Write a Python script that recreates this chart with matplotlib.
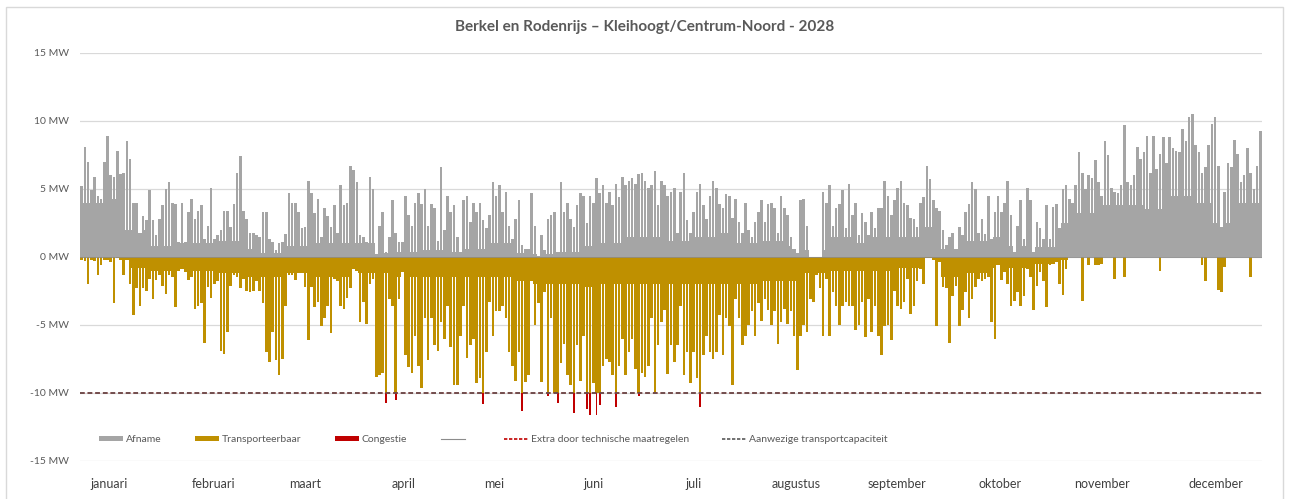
import matplotlib
matplotlib.use("Agg")
import matplotlib.pyplot as plt
import numpy as np
from matplotlib.patches import Patch, Rectangle
from matplotlib.lines import Line2D

plt.rcParams['font.family'] = ['Lato', 'DejaVu Sans']

TITLE = "Berkel en Rodenrijs \u2013 Kleihoogt/Centrum-Noord - 2028"
MONTHS = ["januari", "februari", "maart", "april", "mei", "juni", "juli",
          "augustus", "september", "oktober", "november", "december"]
Y_TICKS = [-15, -10, -5, 0, 5, 10, 15]
CAPACITY = -10  # MW, aanwezige transportcapaciteit

# daily peak of afname (MW), day 0 = 1 januari
AFNAME_PEAK = [
    5.2, 8.1, 7.0, 4.9, 5.9, 4.5, 4.3, 7.0, 8.9, 6.0,
    5.9, 7.8, 6.1, 6.2, 8.5, 7.2, 4.0, 4.0, 1.8, 3.0,
    2.7, 4.9, 2.7, 1.6, 2.8, 3.8, 5.0, 5.5, 4.0, 3.9,
    1.1, 4.0, 1.1, 3.3, 4.3, 2.8, 3.4, 3.8, 1.3, 2.3,
    5.1, 1.3, 1.6, 2.0, 3.4, 3.4, 2.2, 3.9, 6.2, 7.4,
    3.4, 2.8, 1.8, 1.8, 1.6, 1.5, 3.3, 3.3, 1.3, 1.1,
    0.5, 1.0, 1.1, 1.7, 4.7, 4.0, 4.0, 3.3, 2.1, 2.2,
    5.6, 4.7, 3.2, 4.3, 1.5, 3.6, 3.0, 2.2, 3.8, 1.8,
    5.3, 3.8, 4.0, 6.7, 6.4, 5.5, 1.6, 1.5, 1.1, 5.9,
    5.0, 0.2, 2.3, 3.3, 0.4, 1.5, 4.2, 1.8, 1.1, 1.1,
    4.5, 3.1, 2.3, 4.0, 4.7, 3.9, 5.0, 2.3, 3.9, 3.6,
    1.2, 6.6, 2.0, 4.5, 3.3, 3.8, 1.5, 0.4, 4.2, 4.5,
    2.6, 4.0, 3.3, 4.0, 2.7, 2.1, 3.1, 5.5, 4.5, 5.3,
    3.3, 4.8, 2.3, 1.3, 2.8, 4.2, 0.9, 0.6, 0.6, 4.7,
    2.3, 0.1, 1.6, 0.5, 2.8, 3.1, 3.3, 0.4, 5.5, 3.3,
    4.0, 2.8, 2.2, 3.8, 4.7, 4.5, 2.5, 4.5, 4.0, 5.8,
    4.7, 5.3, 4.0, 4.8, 3.8, 5.4, 4.4, 5.9, 5.3, 5.6,
    5.8, 5.4, 6.1, 6.2, 5.6, 5.1, 5.3, 6.3, 3.8, 5.6,
    5.3, 4.5, 4.8, 5.1, 1.8, 4.8, 6.2, 2.7, 1.8, 3.3,
    4.8, 5.4, 3.8, 2.8, 4.5, 5.6, 5.1, 3.9, 3.6, 4.6,
    4.5, 2.9, 4.3, 2.6, 1.8, 4.0, 2.0, 1.5, 2.6, 3.3,
    4.2, 2.6, 3.9, 4.0, 3.6, 1.8, 4.5, 3.6, 3.1, 1.5,
    0.6, 0.3, 4.2, 4.3, 2.3, 0.0, 0.0, 0.0, 0.0, 4.8,
    4.0, 5.3, 2.3, 3.6, 3.9, 4.9, 2.1, 5.4, 3.1, 4.0,
    1.6, 3.2, 2.6, 1.6, 3.3, 2.1, 3.6, 3.6, 5.6, 4.5,
    3.1, 4.2, 5.1, 5.6, 4.0, 3.8, 2.9, 2.8, 2.2, 4.0,
    4.4, 6.7, 5.7, 4.2, 3.6, 3.4, 2.0, 0.9, 1.5, 1.8,
    0.6, 2.2, 1.6, 3.3, 3.9, 5.5, 5.0, 1.8, 2.8, 1.7,
    4.5, 1.3, 3.3, 4.5, 3.3, 4.0, 5.6, 3.1, 0.4, 2.3,
    4.2, 1.3, 5.1, 4.2, 0.4, 2.6, 2.1, 1.3, 3.8, 1.3,
    3.7, 3.9, 2.1, 5.0, 5.3, 4.3, 4.0, 5.3, 7.7, 6.2,
    5.0, 6.0, 5.8, 7.1, 5.5, 4.5, 8.5, 7.5, 5.1, 4.8,
    4.7, 5.3, 9.7, 5.5, 5.3, 6.0, 8.1, 7.2, 7.7, 8.9,
    6.2, 8.9, 6.5, 7.6, 8.8, 6.9, 8.8, 8.0, 7.8, 7.7,
    9.4, 8.5, 10.3, 10.5, 8.2, 7.7, 6.2, 6.6, 8.2, 9.8,
    10.3, 6.7, 2.2, 4.8, 6.9, 6.6, 8.6, 7.6, 5.5, 6.0,
    8.0, 6.2, 5.0, 6.7, 9.3,
]

# daily peak of teruglevering (MW, shown below zero)
TERUG_PEAK = [
    0.2, 0.3, 2.0, 0.2, 0.3, 1.3, 0.6, 0.2, 0.2, 0.4,
    3.4, 0.1, 0.2, 1.3, 0.2, 2.0, 4.3, 2.3, 3.6, 2.3,
    2.5, 1.6, 3.1, 1.7, 1.3, 2.1, 2.7, 1.3, 1.5, 3.7,
    1.0, 0.9, 1.1, 1.7, 1.5, 3.8, 3.6, 3.4, 6.3, 2.2,
    3.0, 2.0, 1.8, 6.9, 7.1, 5.5, 2.1, 1.3, 1.5, 2.3,
    1.6, 2.5, 2.6, 2.5, 1.8, 2.5, 3.4, 7.0, 7.7, 5.5,
    7.6, 8.7, 7.5, 3.6, 1.3, 1.3, 1.7, 1.2, 1.2, 2.2,
    6.1, 2.2, 3.7, 3.3, 5.1, 4.5, 3.6, 5.6, 1.6, 1.8,
    3.6, 3.8, 3.0, 2.3, 0.9, 1.0, 4.8, 3.3, 4.9, 2.0,
    1.6, 8.8, 8.7, 8.5, 10.7, 3.1, 3.6, 10.5, 3.1, 1.1,
    7.2, 8.1, 8.5, 5.8, 8.0, 9.6, 4.5, 7.6, 4.5, 6.5,
    6.9, 4.8, 6.0, 3.6, 6.6, 9.4, 9.4, 5.8, 3.6, 7.4,
    6.5, 6.0, 9.3, 8.9, 10.8, 7.0, 3.3, 5.8, 4.0, 4.0,
    3.6, 4.5, 7.0, 8.0, 9.1, 7.0, 11.3, 9.2, 8.7, 1.8,
    5.0, 3.4, 9.2, 2.6, 10.2, 4.5, 10.0, 10.7, 7.8, 6.4,
    8.7, 9.4, 11.5, 6.5, 9.1, 5.8, 11.2, 11.6, 9.3, 11.6,
    10.9, 8.0, 7.5, 7.7, 8.7, 11.0, 8.0, 6.0, 8.7, 7.0,
    6.0, 8.2, 10.2, 8.5, 8.8, 8.0, 4.5, 10.0, 6.5, 4.8,
    3.9, 8.6, 6.5, 7.7, 6.5, 3.6, 8.7, 7.0, 9.3, 7.0,
    8.9, 11.0, 7.2, 5.8, 7.0, 7.5, 7.0, 4.3, 7.2, 4.5,
    5.1, 9.4, 3.1, 4.5, 6.5, 5.8, 5.0, 4.0, 5.8, 3.4,
    4.7, 3.1, 3.9, 5.0, 4.0, 6.4, 4.8, 3.8, 4.9, 4.0,
    5.8, 8.3, 5.8, 5.0, 5.5, 3.1, 3.3, 1.3, 2.3, 5.8,
    1.6, 5.8, 2.6, 3.6, 5.0, 3.6, 3.3, 3.6, 3.6, 5.4,
    5.0, 3.3, 5.9, 3.1, 5.5, 3.6, 5.8, 7.2, 5.1, 5.0,
    6.1, 2.5, 3.6, 3.8, 3.3, 1.6, 4.2, 3.6, 1.8, 0.9,
    2.0, 0.1, 0.1, 0.2, 5.1, 0.4, 2.2, 2.3, 6.3, 2.9,
    2.1, 5.1, 3.9, 2.6, 4.5, 3.1, 2.2, 1.6, 1.8, 1.6,
    1.5, 4.8, 6.0, 0.6, 1.7, 1.1, 2.0, 3.6, 3.2, 2.6,
    3.6, 2.9, 0.9, 1.5, 3.9, 2.1, 1.1, 1.8, 3.7, 0.6,
    0.5, 0.4, 2.0, 2.8, 0.9, 0.0, 0.0, 0.0, 0.0, 3.2,
    0.0, 0.6, 0.0, 0.6, 0.6, 0.5, 0.0, 0.0, 0.0, 1.6,
    0.0, 0.0, 1.5, 0.0, 0.0, 0.0, 0.0, 0.0, 0.0, 0.0,
    0.0, 0.0, 0.0, 1.0, 0.0, 0.0, 0.0, 0.0, 0.0, 0.0,
    0.0, 0.0, 0.0, 0.0, 0.0, 0.0, 0.6, 1.8, 0.0, 0.0,
    0.0, 2.4, 2.6, 0.7, 0.0, 0.0, 0.0, 0.0, 0.0, 0.0,
    0.0, 1.5, 0.0, 0.0, 0.0,
]

# weekly level that most hours reach (MW), week 0 = days 0-6
AFNAME_BASE = [
    4.0, 4.3, 2.0, 0.8, 1.0, 1.0, 1.2, 0.6, 0.3, 0.8,
    1.0, 1.0, 1.0, 0.3, 0.4, 0.5, 0.4, 0.6, 1.0, 0.3,
    0.2, 0.4, 0.8, 1.0, 1.5, 1.5, 1.2, 1.5, 1.8, 1.0,
    1.2, 0.8, 0.5, 1.5, 1.0, 1.5, 1.5, 2.2, 0.6, 1.2,
    1.5, 0.8, 0.7, 2.5, 3.2, 3.8, 3.8, 3.5, 4.5, 4.0,
    2.5, 4.0, 4.5,
]
TERUG_BASE = [
    0.0, 0.0, 0.8, 1.0, 1.0, 1.0, 1.2, 1.5, 1.5, 1.2,
    1.5, 1.5, 1.2, 1.2, 1.5, 1.5, 1.5, 1.5, 1.5, 1.8,
    2.0, 2.0, 2.2, 2.0, 2.0, 2.0, 2.0, 2.0, 2.0, 2.0,
    1.8, 1.8, 1.2, 1.0, 1.0, 1.0, 0.8, 0.1, 1.5, 1.2,
    0.8, 0.8, 0.5, 0.2, 0.0, 0.0, 0.0, 0.0, 0.0, 0.0,
    0.0, 0.0, 0.0,
]

# x position (in days) of the month labels as placed in the original
MONTH_LABEL_POS = [9.0, 41.1, 69.5, 99.8, 127.9, 158.5, 189.4, 221.2, 252.4, 284.2, 315.7, 350.8]

GRAY = "#a5a5a5"
GOLD = "#bf9000"
RED = "#c00000"
TXT = "#595959"

afname = np.array(AFNAME_PEAK)
terug = np.array(TERUG_PEAK)
days = np.arange(len(afname))
x = days + 0.5
afname_base = np.minimum(np.repeat(AFNAME_BASE, 7)[:len(days)], afname)
terug_base = np.minimum(np.repeat(TERUG_BASE, 7)[:len(days)], terug)

transport = np.minimum(terug, -CAPACITY)
congestie = np.clip(terug + CAPACITY, 0, None)

fig = plt.figure(figsize=(12.9, 4.99), dpi=100)
ax = fig.add_axes([80 / 1290, 38 / 499, 1182 / 1290, 408 / 499])

fig.patches.append(Rectangle((6 / 1290, -0.1), 1277 / 1290, 492 / 499 + 0.1,
                             transform=fig.transFigure, fill=False,
                             edgecolor="#d9d9d9", linewidth=1))

for y in Y_TICKS:
    ax.axhline(y, color="#d9d9d9", linewidth=0.9, zorder=0)

ax.bar(x, afname_base, width=1.0, color=GRAY, linewidth=0, zorder=2)
ax.bar(x, afname, width=0.8, color=GRAY, linewidth=0, zorder=2)
ax.bar(x, -terug_base, width=1.0, color=GOLD, linewidth=0, zorder=2)
ax.bar(x, -transport, width=0.8, color=GOLD, linewidth=0, zorder=2)
ax.bar(x, -congestie, bottom=CAPACITY, width=0.6, color=RED, linewidth=0, zorder=2)

ax.axhline(0, color="#8c8c8c", linewidth=0.6, zorder=3)
ax.axhline(CAPACITY, color=RED, linewidth=1.1, linestyle=(0, (3, 2)), zorder=3)
ax.axhline(CAPACITY, color="#595959", linewidth=1.1, linestyle=(0, (3, 2)), zorder=4)

ax.set_xlim(0, len(days))
ax.set_ylim(-15, 15)
ax.set_yticks(Y_TICKS, [f"{v} MW" for v in Y_TICKS])
ax.set_xticks(MONTH_LABEL_POS, MONTHS)
ax.tick_params(axis="y", length=0, pad=8, labelsize=7.5, labelcolor=TXT)
ax.tick_params(axis="x", length=0, pad=12, labelsize=9, labelcolor="#404040")
for s in ax.spines.values():
    s.set_visible(False)

fig.text(0.5, 1 - 27 / 499, TITLE, ha="center", va="center",
         fontsize=11, fontweight="bold", color=TXT)

handles = [
    Patch(facecolor=GRAY, edgecolor="none"),
    Patch(facecolor=GOLD, edgecolor="none"),
    Patch(facecolor=RED, edgecolor="none"),
    Line2D([], [], color="#8c8c8c", linewidth=0.8),
    Line2D([], [], color=RED, linewidth=1.2, linestyle=(0, (2, 1))),
    Line2D([], [], color="#595959", linewidth=1.2, linestyle=(0, (2, 1))),
]
labels = ["Afname", "Transporteerbaar", "Congestie", " ",
          "Extra door technische maatregelen", "Aanwezige transportcapaciteit"]
leg = ax.legend(handles, labels, ncol=6, loc="center left",
                bbox_to_anchor=(0.008, 0.052), frameon=False,
                fontsize=7.5, handlelength=2.3, handleheight=0.45,
                handletextpad=0.3, columnspacing=3.2, labelcolor=TXT)

fig.savefig("out.png", dpi=100)
